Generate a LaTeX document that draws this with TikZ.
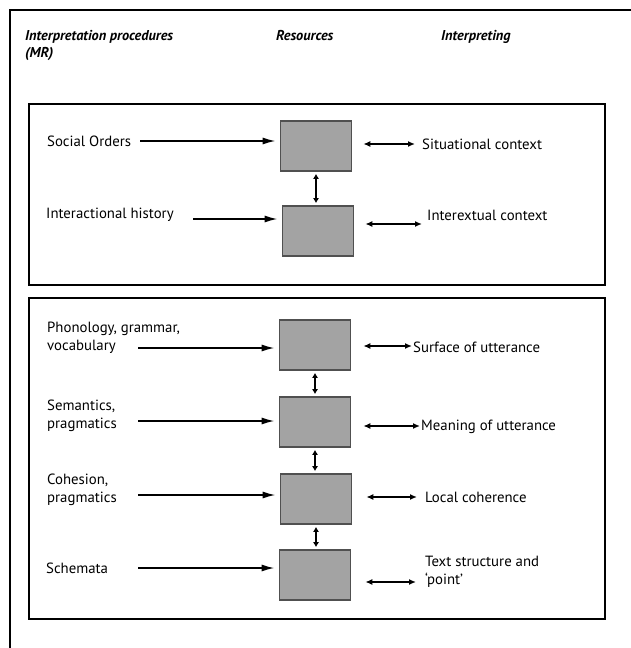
\documentclass[tikz,border=0pt]{standalone}
\usepackage{fontspec}
\setmainfont{PT Sans}
\usetikzlibrary{arrows.meta}
\definecolor{resgray}{HTML}{A3A3A3}
\definecolor{resedge}{HTML}{505050}
\tikzset{
  res/.style={draw=resedge, fill=resgray, line width=1.6pt, minimum width=71pt, minimum height=50pt, inner sep=0pt},
  lab/.style={anchor=west, font=\fontsize{14.8}{18.5}\selectfont, inner sep=0pt, align=left},
  head/.style={anchor=west, font=\fontsize{14.3}{17}\selectfont\bfseries\itshape, inner sep=0pt, align=left},
  frame/.style={line width=2.2pt},
  inarrow/.style={line width=1.8pt, -{Latex[length=13pt,width=7pt]}},
  dblarrow/.style={line width=1.6pt, {Latex[length=7pt,width=6pt]}-{Latex[length=7pt,width=6pt]}},
  varrow/.style={line width=1.6pt, {Latex[length=5pt,width=6pt]}-{Latex[length=5pt,width=6pt]}}
}
\begin{document}
\begin{tikzpicture}[x=1pt,y=-1pt]
\useasboundingbox (0,0) rectangle (630,648);
\fill[white] (0,0) rectangle (630,648);
% outer frame
\draw[frame] (10,660) -- (10,10) -- (640,10);
% headers
\node[head, anchor=north west] (h1) at (25,30) {Interpretation procedures\\(MR)};
\node[head, anchor=north west] (h2) at (276,30) {Resources};
\node[head, anchor=north west] (h3) at (441,30) {Interpreting};
% panels
\draw[frame] (29,104) rectangle (605,285);
\draw[frame] (29,298) rectangle (605,619);
% resource boxes
\node[res] (b1) at (316,146) {};
\node[res] (b2) at (318,231) {};
\node[res] (b3) at (315,345) {};
\node[res] (b4) at (315,422) {};
\node[res] (b5) at (316,499) {};
\node[res] (b6) at (315,575) {};
% left labels
\node[lab] (l1) at (47,141) {Social Orders};
\node[lab] (l2) at (46,215) {Interactional history};
\node[lab] (l3) at (47,338) {Phonology, grammar,\\vocabulary};
\node[lab] (l4) at (47,416) {Semantics,\\pragmatics};
\node[lab] (l5) at (47,490) {Cohesion,\\pragmatics};
\node[lab] (l6) at (46,568) {Schemata};
% right labels
\node[lab] (r1) at (422,144) {Situational context};
\node[lab] (r2) at (427,215) {Interextual context};
\node[lab] (r3) at (413,347) {Surface of utterance};
\node[lab] (r4) at (421,427) {Meaning of utterance};
\node[lab] (r5) at (425,497) {Local coherence};
\node[lab] (r6) at (425,572) {Text structure and\\\textquoteleft point\textquoteright};
% input arrow starts
\coordinate (s1) at (140,141);
\coordinate (s2) at (193,219);
\coordinate (s3) at (138,348);
\coordinate (s4) at (138,421);
\coordinate (s5) at (138,495);
\coordinate (s6) at (138,568);
\draw[inarrow, shorten >=4pt] (s1) -- (b1.west |- s1);
\draw[inarrow, shorten >=4pt] (s2) -- (b2.west |- s2);
\draw[inarrow, shorten >=4pt] (s3) -- (b3.west |- s3);
\draw[inarrow, shorten >=4pt] (s4) -- (b4.west |- s4);
\draw[inarrow, shorten >=4pt] (s5) -- (b5.west |- s5);
\draw[inarrow, shorten >=4pt] (s6) -- (b6.west |- s6);
% right double arrows
\coordinate (e1) at (415,144);
\coordinate (e2) at (422,224);
\coordinate (e3) at (412,346);
\coordinate (e4) at (420,426);
\coordinate (e5) at (417,497);
\coordinate (e6) at (416,582);
\draw[dblarrow] ([xshift=11pt]b1.east |- e1) -- (e1);
\draw[dblarrow] ([xshift=11pt]b2.east |- e2) -- (e2);
\draw[dblarrow] ([xshift=12pt]b3.east |- e3) -- (e3);
\draw[dblarrow] ([xshift=12pt]b4.east |- e4) -- (e4);
\draw[dblarrow] ([xshift=14pt]b5.east |- e5) -- (e5);
\draw[dblarrow] ([xshift=14pt]b6.east |- e6) -- (e6);
% vertical double arrows
\draw[varrow] ([yshift=-2pt]b1.south) -- ([yshift=2pt]b1.south |- b2.north);
\draw[varrow] ([yshift=-2pt]b3.south) -- ([yshift=2pt]b3.south |- b4.north);
\draw[varrow] ([yshift=-2pt]b4.south) -- ([yshift=2pt]b4.south |- b5.north);
\draw[varrow] ([yshift=-2pt]b5.south) -- ([yshift=2pt]b5.south |- b6.north);
\end{tikzpicture}
\end{document}
